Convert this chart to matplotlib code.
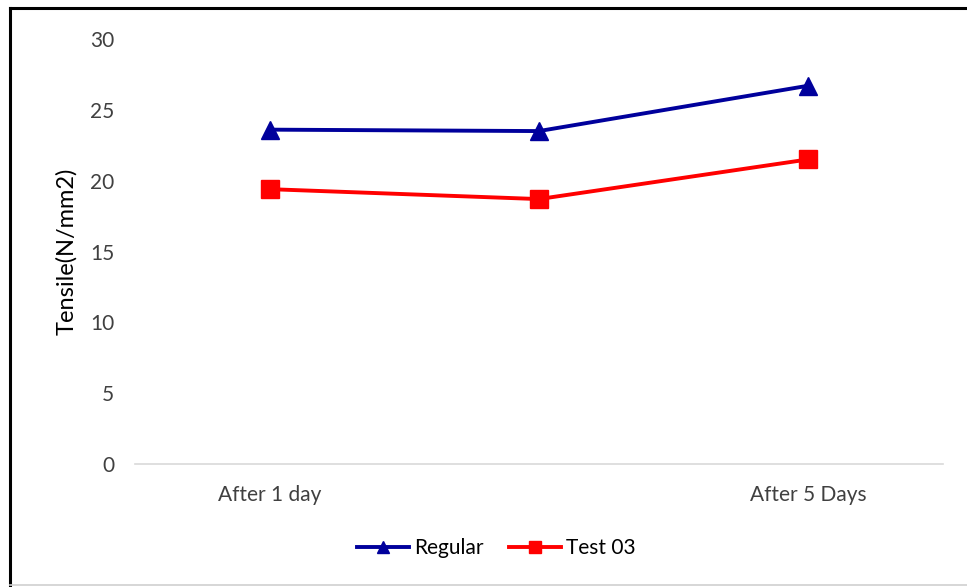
import matplotlib.pyplot as plt
from matplotlib.lines import Line2D

# chart data
categories = ['After 1 day', '', 'After 5 Days']
regular = [23.6, 23.5, 26.7]
test03 = [19.4, 18.7, 21.5]

plt.rcParams['font.family'] = ['Lato', 'DejaVu Sans']

fig = plt.figure(figsize=(9.67, 5.87), dpi=100)
ax = fig.add_axes([0.1396, 0.2095, 0.8354, 0.7241])

x = range(len(categories))
ax.plot(x, regular, color='#00009C', linewidth=2.8, marker='^', markersize=12.5,
        label='Regular')
ax.plot(x, test03, color='#FF0000', linewidth=2.8, marker='s', markersize=12.5,
        label='Test 03')

ax.set_xlim(-0.5, len(categories) - 0.5)
ax.set_ylim(0, 30)
ax.set_yticks(range(0, 31, 5))
ax.set_xticks(list(x))
ax.set_xticklabels(categories)
ax.tick_params(axis='both', length=0, labelsize=15, colors='#404040')
ax.tick_params(axis='y', pad=15)
ax.tick_params(axis='x', pad=15)

for side in ['top', 'right', 'left']:
    ax.spines[side].set_visible(False)
ax.spines['bottom'].set_color('#D9D9D9')
ax.spines['bottom'].set_linewidth(1.2)

ax.set_ylabel('Tensile(N/mm2)', fontsize=17, color='black')
ax.yaxis.set_label_coords(-0.072, 0.5)

ax.legend(loc='center', bbox_to_anchor=(0.447, -0.198), ncol=2, frameon=False,
          fontsize=15, handlelength=2.5, columnspacing=1.2, handletextpad=0.25,
          markerscale=0.7)

# frame around the picture
fig.add_artist(Line2D([0.0108, 0.0108], [0.0, 0.987], color='black', linewidth=2.2,
                      transform=fig.transFigure))
fig.add_artist(Line2D([0.0108, 1.0], [0.987, 0.987], color='black', linewidth=2.2,
                      transform=fig.transFigure))
fig.add_artist(Line2D([0.0108, 1.0], [0.004, 0.004], color='#D0D0D0', linewidth=1.2,
                      transform=fig.transFigure))

fig.savefig('out.png', dpi=100)
